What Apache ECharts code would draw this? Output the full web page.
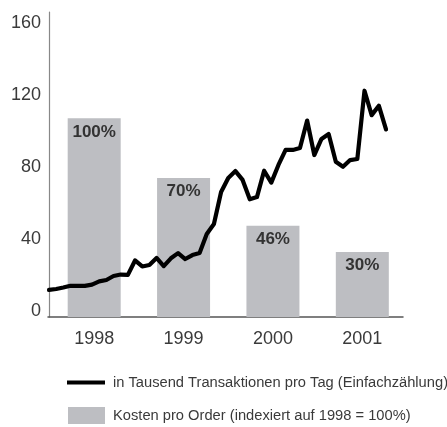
<!DOCTYPE html>
<html>
<head>
<meta charset="utf-8">
<script src="https://cdn.jsdelivr.net/npm/echarts@6/dist/echarts.min.js"></script>
<style>
html,body{margin:0;padding:0;background:#fff;}
#chart{width:447px;height:427px;}
</style>
</head>
<body>
<div id="chart"></div>
<script>
// ---- data ----
const years = ['1998', '1999', '2000', '2001'];
const costValues = [110, 77, 50.5, 36];          // bar heights on the left scale
const costLabels = ['100%', '70%', '46%', '30%']; // printed labels
// monthly transactions (thousands per day), Jan 1998 .. Dec 2001
const transactions = [
  15.0, 15.5, 16.3, 17.3, 17.2, 17.2, 17.9, 19.7, 20.5, 22.7, 23.5, 23.3,
  31.3, 28.0, 28.8, 32.7, 28.2, 32.5, 35.4, 32.1, 34.3, 35.4, 46.0, 51.5,
  69.2, 77.0, 80.8, 75.9, 65.2, 66.4, 81.0, 74.4, 84.2, 92.5, 92.5, 93.6,
  108.8, 89.7, 98.6, 101.3, 86.0, 83.2, 86.9, 87.5, 125.3, 111.8, 117.0, 103.9
];
const yTicks = [0, 40, 80, 120, 160];
const lineName = 'in Tausend Transaktionen pro Tag (Einfachzählung)';
const barName = 'Kosten pro Order (indexiert auf 1998 = 100%)';

const FONT = 'Liberation Sans';
const TXT = '#3a3a3a';
const yMax = 168.9;

const chart = echarts.init(document.getElementById('chart'), null, {renderer: 'canvas'});
chart.setOption({
  animation: false,
  backgroundColor: '#fff',
  textStyle: {fontFamily: FONT},
  grid: [
    {left: 48, right: 44, top: 12, bottom: 110},
    {left: 49.5, right: 40, top: 12, bottom: 110}
  ],
  legend: [
    {
      data: [{name: lineName, icon: 'rect'}], left: 67, top: 375, padding: 0,
      itemWidth: 38, itemHeight: 4,
      textStyle: {fontFamily: FONT, fontSize: 14.7, color: TXT, padding: [0, 0, 0, 3]}
    },
    {
      data: [{name: barName, icon: 'rect'}], left: 68, top: 407, padding: 0,
      itemWidth: 37, itemHeight: 17,
      textStyle: {fontFamily: FONT, fontSize: 14.7, color: TXT, padding: [5, 0, 0, 3]}
    }
  ],
  xAxis: [
    {
      type: 'value', gridIndex: 0, min: -0.14, max: 49.37,
      axisLine: {show: true, lineStyle: {color: '#555', width: 1.5}},
      axisTick: {show: false}, axisLabel: {show: false}, splitLine: {show: false}
    },
    {
      type: 'category', gridIndex: 1, data: years,
      axisLine: {show: false}, axisTick: {show: false},
      axisLabel: {fontFamily: FONT, fontSize: 18, color: TXT, margin: 13}
    }
  ],
  yAxis: [
    {
      type: 'value', gridIndex: 0, min: 0, max: yMax, interval: 40,
      axisLine: {show: true, lineStyle: {color: '#888', width: 1.2}},
      axisTick: {show: false}, splitLine: {show: false},
      axisLabel: {
        fontFamily: FONT, fontSize: 18, color: TXT, margin: 7,
        showMaxLabel: false, verticalAlign: 'bottom', lineHeight: 11,
        formatter: v => (yTicks.indexOf(v) >= 0 ? String(v) : '')
      }
    },
    {
      type: 'value', gridIndex: 1, min: 0, max: yMax, interval: 40, show: false
    }
  ],
  series: [
    {
      name: barName, type: 'bar', xAxisIndex: 1, yAxisIndex: 1,
      data: costValues, barWidth: 53,
      itemStyle: {color: '#bdbec2'},
      label: {
        show: true, position: 'insideTop', distance: 5,
        formatter: p => costLabels[p.dataIndex],
        fontFamily: FONT, fontSize: 17, fontWeight: 'bold', color: '#333'
      },
      z: 2
    },
    {
      name: lineName, type: 'line', xAxisIndex: 0, yAxisIndex: 0,
      data: transactions.map((v, i) => [i, v]),
      showSymbol: false, symbol: 'none',
      lineStyle: {color: '#000', width: 4.2, cap: 'round', join: 'round'},
      itemStyle: {color: '#000'},
      z: 5
    }
  ]
});
</script>
</body>
</html>
